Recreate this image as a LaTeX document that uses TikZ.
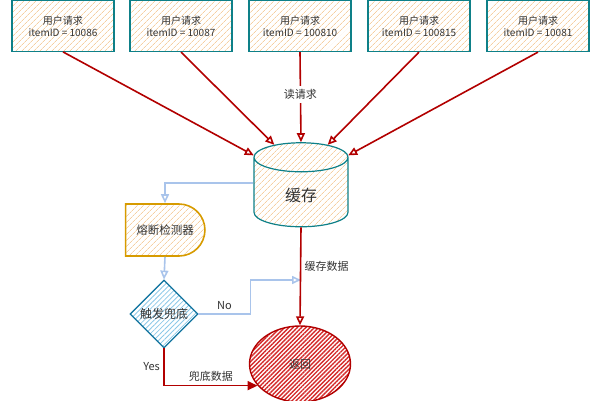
\documentclass[tikz,border=0pt]{standalone}
\usepackage{fontspec}
\setmainfont{Noto Sans CJK SC}
\usetikzlibrary{arrows.meta,positioning,calc,shapes.geometric,shapes.misc,patterns.meta}

\definecolor{tealline}{HTML}{0E8088}
\definecolor{peach}{HTML}{F5CFA2}
\definecolor{redline}{HTML}{B20000}
\definecolor{blueline}{HTML}{A9C4EB}
\definecolor{orangeline}{HTML}{D79B00}
\definecolor{skyline}{HTML}{10739E}
\definecolor{skyfill}{HTML}{8CC8E8}
\definecolor{redfill}{HTML}{D42A2A}
\definecolor{textgray}{HTML}{333333}

\tikzset{
  reqbox/.style={draw=tealline, line width=1.2pt, pattern={Lines[angle=45,distance=4pt,line width=0.8pt]},
    pattern color=peach, minimum width=102pt, minimum height=51pt, align=center,
    font=\fontsize{10}{12}\selectfont, text=textgray},
  redarrow/.style={draw=redline, line width=1.6pt, -{Triangle[open,length=9pt,width=8pt]}},
  bluearrow/.style={draw=blueline, line width=1.6pt, -{Triangle[open,length=9pt,width=8pt]}},
  lbl/.style={font=\fontsize{11}{13}\selectfont, text=textgray}
}

\begin{document}
\begin{tikzpicture}[x=1pt, y=-1pt]
  \useasboundingbox (0,0) rectangle (600,400);

  % requests (top row)
  \node[reqbox] (req1) at (63,26)  {用户请求\\itemID = 10086};
  \node[reqbox] (req2) at (181,26) {用户请求\\itemID = 10087};
  \node[reqbox] (req3) at (300,26) {用户请求\\itemID = 100810};
  \node[reqbox] (req4) at (419,26) {用户请求\\itemID = 100815};
  \node[reqbox] (req5) at (538,26) {用户请求\\itemID = 10081};

  % cache
  \node[cylinder, shape border rotate=90, aspect=0.75, draw=tealline, line width=1.2pt,
        pattern={Lines[angle=45,distance=4pt,line width=0.8pt]}, pattern color=peach,
        minimum width=94pt, minimum height=84pt, font=\fontsize{16}{18}\selectfont,
        text=textgray] (cache) at (301,195) {缓存};

  \draw[redarrow] (req1.south) -- (cache.140);
  \draw[redarrow] (req2.south) -- (cache.118);
  \draw[redarrow] (req3.south) -- node[pos=0.47, fill=white, lbl] {读请求} (cache.top);
  \draw[redarrow] (req4.south) -- (cache.62);
  \draw[redarrow] (req5.south) -- (cache.40);

  % breaker and fallback check
  \node[rounded rectangle, rounded rectangle left arc=none, draw=orangeline, line width=1.6pt,
        pattern={Lines[angle=45,distance=4pt,line width=0.8pt]}, pattern color=peach,
        minimum width=86pt, minimum height=52pt, font=\fontsize{11.5}{13}\selectfont,
        text=textgray] (breaker) at (165,230) {熔断检测器};
  \node[diamond, draw=skyline, line width=1.2pt, inner sep=0pt,
        pattern={Lines[angle=45,distance=3.5pt,line width=0.8pt]}, pattern color=skyfill,
        minimum width=68pt, minimum height=68pt, font=\fontsize{12}{14}\selectfont,
        text=textgray] (judge) at (164,314) {触发兜底};

  % result
  \node[ellipse, draw=redline, line width=1.4pt,
        pattern={Lines[angle=45,distance=3pt,line width=1.4pt]}, pattern color=redfill,
        minimum width=101pt, minimum height=76pt, lbl] (ret) at (300,364) {返回};

  \coordinate (hit) at (301,280);

  \draw[bluearrow] ($(cache.west)+(0,-12)$) -| (breaker.north);
  \draw[bluearrow] (breaker.south) -- (judge.north);
  \draw[bluearrow] (judge.east) -- node[above, lbl] {No} ++(52,0) |- (hit);
  \draw[redarrow] (cache.bottom) -- node[pos=0.4, right, lbl] {缓存数据} (ret.north);
  \draw[draw=redline, line width=1.6pt, -{Triangle[length=10pt,width=9pt]}]
    (judge.south) |- node[pos=0.25, left, lbl] {Yes} node[pos=0.75, above, lbl] {兜底数据} (ret.207);
\end{tikzpicture}
\end{document}
